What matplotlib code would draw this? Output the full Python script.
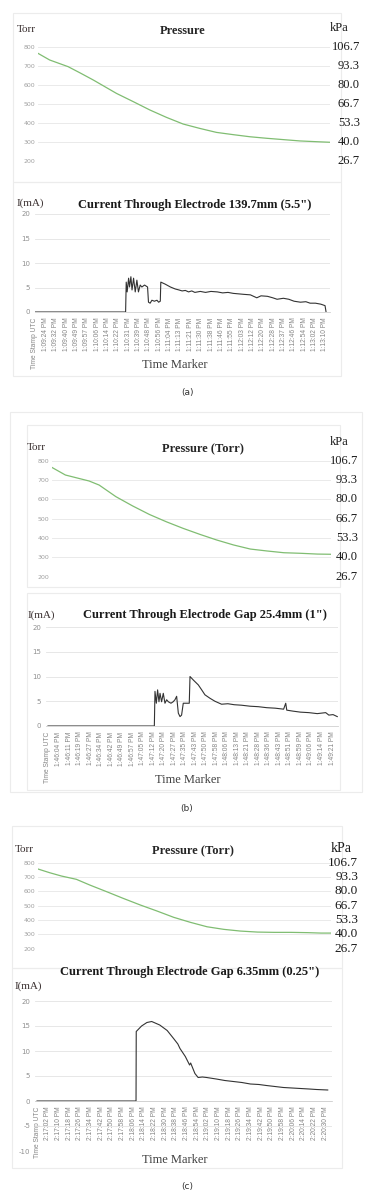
import matplotlib.pyplot as plt
from matplotlib.patches import Rectangle

plt.rcParams['axes.unicode_minus'] = False

# pressure axis ticks (Torr) and their kPa equivalents
torr_ticks = [800, 700, 600, 500, 400, 300, 200]
kpa_labels = ['106.7', '93.3', '80.0', '66.7', '53.3', '40.0', '26.7']

# pressure curves, x is fraction of the run
pa_t = [0, 0.04, 0.103, 0.143, 0.189, 0.269, 0.326, 0.383, 0.44, 0.497, 0.554, 0.611, 0.669, 0.726, 0.783, 0.84, 0.897, 0.954, 1.0]
pa_p = [765, 730, 695, 663, 625, 554, 511, 467, 428, 393, 370, 349, 337, 326, 318, 311, 304, 300, 297]

pb_t = [0, 0.048, 0.133, 0.169, 0.229, 0.289, 0.349, 0.41, 0.47, 0.53, 0.59, 0.651, 0.711, 0.771, 0.831, 0.892, 0.952, 1.0]
pb_p = [765, 726, 695, 674, 614, 566, 522, 484, 450, 419, 390, 364, 343, 333, 324, 321, 317, 316]

pc_t = [0, 0.04, 0.08, 0.131, 0.177, 0.234, 0.291, 0.349, 0.406, 0.463, 0.52, 0.577, 0.634, 0.691, 0.749, 0.806, 0.863, 0.92, 0.966, 1.0]
pc_p = [756, 730, 707, 684, 644, 598, 551, 505, 463, 419, 384, 353, 335, 323, 316, 314, 314, 312, 309, 309]

# time marker labels
times_a = ['Time Stamp UTC', '1:09:24 PM', '1:09:32 PM', '1:09:40 PM', '1:09:49 PM', '1:09:57 PM',
           '1:10:06 PM', '1:10:14 PM', '1:10:22 PM', '1:10:31 PM', '1:10:39 PM', '1:10:48 PM',
           '1:10:56 PM', '1:11:04 PM', '1:11:13 PM', '1:11:21 PM', '1:11:30 PM', '1:11:38 PM',
           '1:11:46 PM', '1:11:55 PM', '1:12:03 PM', '1:12:12 PM', '1:12:20 PM', '1:12:28 PM',
           '1:12:37 PM', '1:12:46 PM', '1:12:54 PM', '1:13:02 PM', '1:13:10 PM']
times_b = ['Time Stamp UTC', '1:46:04 PM', '1:46:11 PM', '1:46:19 PM', '1:46:27 PM', '1:46:34 PM',
           '1:46:42 PM', '1:46:49 PM', '1:46:57 PM', '1:47:05 PM', '1:47:12 PM', '1:47:20 PM',
           '1:47:27 PM', '1:47:35 PM', '1:47:43 PM', '1:47:50 PM', '1:47:58 PM', '1:48:06 PM',
           '1:48:13 PM', '1:48:21 PM', '1:48:28 PM', '1:48:36 PM', '1:48:43 PM', '1:48:51 PM',
           '1:48:59 PM', '1:49:06 PM', '1:49:14 PM', '1:49:21 PM']
times_c = ['Time Stamp UTC', '2:17:02 PM', '2:17:10 PM', '2:17:18 PM', '2:17:26 PM', '2:17:34 PM',
           '2:17:42 PM', '2:17:50 PM', '2:17:58 PM', '2:18:06 PM', '2:18:14 PM', '2:18:22 PM',
           '2:18:30 PM', '2:18:38 PM', '2:18:46 PM', '2:18:54 PM', '2:19:02 PM', '2:19:10 PM',
           '2:19:18 PM', '2:19:26 PM', '2:19:34 PM', '2:19:42 PM', '2:19:50 PM', '2:19:58 PM',
           '2:20:06 PM', '2:20:14 PM', '2:20:22 PM', '2:20:30 PM']

# current traces, x in time-label index units
ca_x = [0, 8.75, 8.81, 8.90, 9.04, 9.13, 9.26, 9.37, 9.52, 9.68, 9.84, 9.99, 10.16, 10.32, 10.58,
        10.87, 10.96, 11.12, 11.29, 11.53, 11.78, 11.94, 12.10, 12.15, 12.56, 13.08, 13.54, 13.90,
        14.21, 14.52, 14.83, 15.14, 15.44, 15.96, 16.47, 16.99, 17.61, 18.12, 18.64, 19.15, 19.67,
        20.18, 20.80, 21.42, 21.83, 22.45, 22.96, 23.38, 23.99, 24.51, 25.02, 25.64, 26.16, 26.57,
        27.08, 27.60, 28.01, 28.11]
ca_v = [0, 0, 6.1, 4.1, 6.9, 5.1, 7.2, 4.5, 6.9, 4.1, 6.5, 4.1, 5.5, 5.1, 5.5, 5.1,
        2.0, 1.8, 2.4, 2.2, 2.4, 2.0, 2.2, 6.1, 5.7, 5.1, 4.7, 4.5, 4.3, 4.4,
        4.1, 4.3, 4.0, 4.2, 4.0, 4.2, 4.1, 3.9, 4.0, 3.8, 3.7, 3.6, 3.5, 2.9, 3.3,
        3.2, 2.9, 2.6, 2.8, 2.6, 2.2, 2.0, 2.1, 1.8, 1.8, 1.6, 1.3, 0]

cb_x = [0, 10.11, 10.17, 10.3, 10.42, 10.55, 10.65, 10.8, 10.96, 11.12, 11.28, 11.44, 11.69, 11.9,
        12.07, 12.23, 12.39, 12.55, 12.7, 12.86, 13.18, 13.43, 13.5, 13.81, 14.29, 14.61, 14.92,
        15.4, 15.87, 16.5, 17.1, 17.7, 18.4, 19.2, 20.0, 20.8, 21.6, 22.4, 22.6, 22.7, 23.3, 24.0,
        24.8, 25.6, 26.4, 26.7, 27.1, 27.5]
cb_v = [0, 0, 7.0, 4.6, 7.3, 4.9, 6.6, 4.9, 6.6, 4.6, 5.3, 4.9, 4.6, 4.9,
        5.3, 6.0, 2.6, 1.9, 2.2, 4.6, 4.6, 4.6, 10.0, 9.3, 8.3, 7.3, 6.3,
        5.6, 5.0, 4.4, 4.5, 4.3, 4.2, 4.0, 3.9, 3.7, 3.6, 3.4, 4.6, 3.2, 3.0, 2.8,
        2.7, 2.5, 2.7, 2.2, 2.3, 1.9]

cc_x = [0, 9.28, 9.3, 9.8, 10.3, 10.75, 11.5, 12.2, 12.8, 13.2, 13.4, 13.9, 14.3, 14.4, 14.8,
        15.1, 15.5, 15.9, 16.8, 17.6, 18.4, 19.2, 20.0, 20.8, 21.5, 22.3, 23.1, 23.9, 24.7,
        25.5, 26.2, 27.25]
cc_v = [0, 0, 13.9, 15.0, 15.7, 15.9, 15.2, 14.1, 12.5, 11.4, 10.5, 8.9, 7.2, 7.6, 5.5,
        4.7, 4.8, 4.7, 4.4, 4.1, 3.9, 3.7, 3.4, 3.3, 3.1, 2.9, 2.7, 2.6, 2.5,
        2.4, 2.3, 2.2]

W, H = 375, 1200
fig = plt.figure(figsize=(3.75, 12), dpi=100)
serif = 'Liberation Serif'
green = '#80bd72'


def box(l, t, r, b):
    return [l / W, 1 - b / H, (r - l) / W, (b - t) / H]


def ftext(x, y, s, **kw):
    kw.setdefault('va', 'center')
    fig.text(x / W, 1 - y / H, s, **kw)


def frame(l, t, r, b, color='#ececec'):
    fig.patches.append(Rectangle((l / W, 1 - b / H), (r - l) / W, (b - t) / H,
                                 transform=fig.transFigure, fill=False, ec=color, lw=0.8,
                                 zorder=-5))


def clean(ax):
    for s in ['left', 'right', 'top']:
        ax.spines[s].set_visible(False)
    ax.patch.set_alpha(0)
    ax.set_axisbelow(True)


def pressure_axes(rect, t, p, kpa_right, kpa_size=9):
    ax = fig.add_axes(box(*rect))
    clean(ax)
    ax.spines['bottom'].set_visible(False)
    ax.plot(t, p, color=green, lw=0.9)
    ax.set_xlim(0, 1)
    ax.set_ylim(200, 800)
    ax.set_yticks(torr_ticks)
    ax.set_xticks([])
    ax.tick_params(axis='y', length=0, labelsize=4.5, labelcolor='#a0a0a0', pad=2)
    ax.grid(axis='y', color='#e6e6e6', lw=0.6)
    kx = (kpa_right - rect[0]) / (rect[2] - rect[0])
    for v, lab in zip(torr_ticks, kpa_labels):
        ax.text(kx, v, lab, transform=ax.get_yaxis_transform(), ha='right', va='center',
                fontsize=kpa_size, family=serif, color='#1a1a1a', clip_on=False)
    return ax


def current_axes(rect, x, v, labels, xlim, ylim, yticks):
    ax = fig.add_axes(box(*rect))
    clean(ax)
    ax.spines['bottom'].set_position(('data', 0))
    ax.spines['bottom'].set_color('#d0d0d0')
    ax.spines['bottom'].set_linewidth(0.6)
    ax.plot(x, v, color='#333333', lw=0.8)
    ax.set_xlim(*xlim)
    ax.set_ylim(*ylim)
    ax.set_yticks(yticks)
    ax.tick_params(length=0, labelsize=5, labelcolor='#909090')
    ax.tick_params(axis='x', pad=4, labelrotation=90, labelsize=4.8, labelcolor='#858585')
    ax.set_xticks(range(len(labels)))
    ax.set_xticklabels(labels, family='Liberation Sans')
    ax.grid(axis='y', color='#e3e3e3', lw=0.6)
    return ax


# ---- (a) ----
frame(13, 13, 341, 182)
frame(13, 182, 341, 376)
pressure_axes((38, 46.7, 330, 160.7), pa_t, pa_p, 360)
ftext(17, 29, 'Torr', family=serif, fontsize=8, color='#3a3030')
ftext(183, 31, 'Pressure', family=serif, fontsize=9, weight='bold', ha='center', color='#262626')
ftext(330, 28, 'kPa', family=serif, fontsize=9, color='#1a1a1a')
current_axes((35, 214, 330, 312), ca_x, ca_v, times_a, (0.04, 28.49), (0, 20), [0, 5, 10, 15, 20])
ftext(17, 203, 'I(mA)', family=serif, fontsize=8, color='#3a3030')
ftext(195, 205, 'Current Through Electrode 139.7mm (5.5")', family=serif, fontsize=9,
      weight='bold', ha='center', color='#1a1a1a')
ftext(175, 365, 'Time Marker', family=serif, fontsize=9, ha='center', color='#404040')
ftext(187, 392, '(a)', family='DejaVu Sans', fontsize=6.5, ha='center', color='#333333')

# ---- (b) ----
frame(10, 412, 362, 792)
frame(27, 425, 340, 587)
frame(27, 593, 340, 790)
pressure_axes((52, 460.7, 331, 576.7), pb_t, pb_p, 358)
ftext(27, 448, 'Torr', family=serif, fontsize=8, color='#3a3030')
ftext(203, 449, 'Pressure (Torr)', family=serif, fontsize=9, weight='bold', ha='center', color='#262626')
ftext(330, 442, 'kPa', family=serif, fontsize=9, color='#1a1a1a')
current_axes((46, 627, 338, 726), cb_x, cb_v, times_b, (-0.19, 27.57), (0, 20), [0, 5, 10, 15, 20])
ftext(28, 615, 'I(mA)', family=serif, fontsize=8, color='#3a3030')
ftext(205, 615, 'Current Through Electrode Gap 25.4mm (1")', family=serif, fontsize=9,
      weight='bold', ha='center', color='#1a1a1a')
ftext(188, 780, 'Time Marker', family=serif, fontsize=9, ha='center', color='#404040')
ftext(187, 808, '(b)', family='DejaVu Sans', fontsize=6.5, ha='center', color='#333333')

# ---- (c) ----
frame(12, 826, 342, 968)
frame(12, 968, 342, 1168)
pressure_axes((38, 862.7, 331, 948.7), pc_t, pc_p, 358, kpa_size=9.5)
ftext(15, 850, 'Torr', family=serif, fontsize=8, color='#3a3030')
ftext(193, 851, 'Pressure (Torr)', family=serif, fontsize=9, weight='bold', ha='center', color='#262626')
ftext(331, 848, 'kPa', family=serif, fontsize=10, color='#1a1a1a')
current_axes((35, 1001, 332, 1151), cc_x, cc_v, times_c, (-0.19, 27.65), (-10, 20),
             [-10, -5, 0, 5, 10, 15, 20])
ftext(15, 986, 'I(mA)', family=serif, fontsize=8, color='#3a3030')
ftext(190, 972, 'Current Through Electrode Gap 6.35mm (0.25")', family=serif, fontsize=9,
      weight='bold', ha='center', color='#1a1a1a')
ftext(175, 1160, 'Time Marker', family=serif, fontsize=9, ha='center', color='#404040')
ftext(187, 1187, '(c)', family='DejaVu Sans', fontsize=6.5, ha='center', color='#333333')

fig.savefig('out.png', dpi=100)
